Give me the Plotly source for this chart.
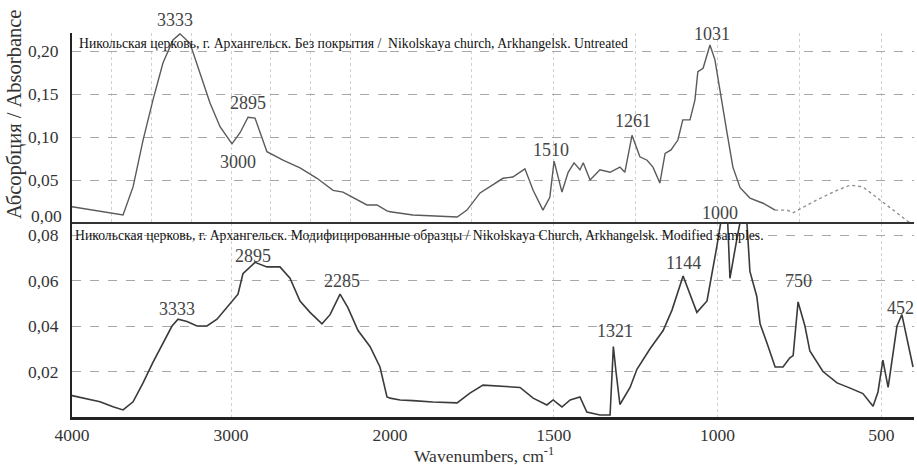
import plotly.graph_objects as go

# ---------------- data ----------------
top_wavenumber = [4000, 3824, 3679, 3616, 3553, 3491, 3428, 3365, 3321, 3258, 3195, 3132, 3069,
                  2994, 2943, 2893, 2849, 2818, 2774, 2673, 2566, 2459, 2358, 2296, 2233, 2145,
                  2082, 2019, 1930, 1795, 1765, 1725, 1695, 1655, 1625, 1588, 1563, 1533, 1512,
                  1499, 1475, 1456, 1438, 1420, 1410, 1389, 1359, 1328, 1298, 1283, 1261, 1237,
                  1215, 1197, 1176, 1160, 1142, 1121, 1106, 1084, 1069, 1060, 1044, 1023, 1008,
                  992, 971, 953, 931, 901, 861, 824, 788, 769, 696, 635, 595, 556, 504, 452, 412]
top_absorbance = [0.019, 0.014, 0.0093, 0.042, 0.0965, 0.143, 0.186, 0.213, 0.220, 0.209, 0.174,
                  0.1395, 0.112, 0.092, 0.105, 0.123, 0.122, 0.105, 0.083, 0.073, 0.064, 0.052,
                  0.038, 0.036, 0.030, 0.021, 0.021, 0.014, 0.0093, 0.007, 0.015, 0.035, 0.042,
                  0.052, 0.0535, 0.063, 0.038, 0.015, 0.030, 0.072, 0.036, 0.059, 0.070, 0.062,
                  0.070, 0.050, 0.062, 0.059, 0.065, 0.059, 0.102, 0.077, 0.073, 0.065, 0.0465,
                  0.081, 0.085, 0.0965, 0.120, 0.120, 0.143, 0.176, 0.180, 0.207, 0.190, 0.151,
                  0.105, 0.065, 0.041, 0.029, 0.023, 0.015, 0.015, 0.012, 0.027, 0.038, 0.044,
                  0.042, 0.027, 0.012, 0.000]

bottom_wavenumber = [4000, 3824, 3742, 3679, 3616, 3553, 3491, 3428, 3371, 3333, 3277, 3214, 3151,
                     3088, 3006, 2956, 2925, 2849, 2774, 2692, 2629, 2566, 2503, 2428, 2377, 2314,
                     2264, 2201, 2126, 2063, 2019, 1969, 1930, 1869, 1795, 1756, 1716, 1673, 1603,
                     1563, 1521, 1502, 1475, 1450, 1420, 1399, 1359, 1328, 1318, 1310, 1298, 1267,
                     1246, 1206, 1166, 1139, 1105, 1063, 1032, 1002, 985, 970, 962, 940, 925, 910,
                     901, 880, 870, 849, 824, 800, 779, 769, 754, 733, 718, 678, 635, 595, 556, 525,
                     510, 495, 479, 452, 437, 403]
bottom_absorbance = [0.0094, 0.0067, 0.0045, 0.0031, 0.0067, 0.015, 0.024, 0.0325, 0.040, 0.043,
                     0.042, 0.040, 0.040, 0.043, 0.050, 0.054, 0.063, 0.068, 0.066, 0.066, 0.061,
                     0.051, 0.046, 0.041, 0.045, 0.054, 0.048, 0.038, 0.031, 0.022, 0.0088, 0.0075,
                     0.0072, 0.0066, 0.0062, 0.0105, 0.014, 0.0136, 0.013, 0.0083, 0.0053, 0.0075,
                     0.0044, 0.0075, 0.0088, 0.0022, 0.0009, 0.0009, 0.031, 0.020, 0.0055, 0.013,
                     0.021, 0.030, 0.038, 0.047, 0.062, 0.046, 0.051, 0.075, 0.090, 0.090, 0.061,
                     0.079, 0.090, 0.085, 0.064, 0.053, 0.041, 0.0325, 0.022, 0.022, 0.026, 0.027,
                     0.0506, 0.040, 0.029, 0.020, 0.015, 0.0127, 0.0103, 0.0047, 0.011, 0.025,
                     0.013, 0.040, 0.045, 0.022]

top_peaks = [("3333", 3352, 0.236), ("2895", 2893, 0.1395), ("3000", 2956, 0.071),
             ("1510", 1508, 0.085), ("1261", 1258, 0.1186), ("1031", 1017, 0.220),
             ("1000", 992, 0.0116)]
bottom_peaks = [("3333", 3340, 0.0475), ("2895", 2862, 0.0707), ("2285", 2302, 0.060),
                ("1321", 1313, 0.038), ("1144", 1105, 0.0677), ("750", 753, 0.060),
                ("452", 440, 0.048)]

top_title = "Никольская церковь, г. Архангельск. Без покрытия /  Nikolskaya church, Arkhangelsk. Untreated"
bottom_title = "Никольская церковь, г. Архангельск. Модифицированные образцы / Nikolskaya Church, Arkhangelsk. Modified samples."
y_title = "Абсорбция / Absorbance"
x_title = "Wavenumbers, cm<sup>-1</sup>"

top_ticks = [0.05, 0.10, 0.15, 0.20]
bottom_ticks = [0.02, 0.04, 0.06, 0.08]
left_xticks = [4000, 3000, 2000]
right_xticks = [1500, 1000, 500]

# ---------------- helpers ----------------
SPLIT = 2000
FADE = 790     # below this the upper scan is faint / broken
TOP_RANGE = 0.221
BOT_RANGE = 0.0853


def segment(wn, ab, hi, lo):
    """Points with lo <= wn <= hi plus one neighbour on each side (clipped by the axis)."""
    idx = [i for i, w in enumerate(wn) if lo <= w <= hi]
    if not idx:
        return [], []
    a, b = max(idx[0] - 1, 0), min(idx[-1] + 1, len(wn) - 1)
    return wn[a:b + 1], ab[a:b + 1]


SERIF = "Liberation Serif"
fig = go.Figure()

top_line = dict(color="#5a5a5a", width=1.4)
top_faint = dict(color="#8a8a8a", width=1.3, dash="dot")
bot_line = dict(color="#3a3a3a", width=1.6)

w, a = segment(top_wavenumber, top_absorbance, 4000, SPLIT)
fig.add_trace(go.Scatter(x=w, y=a, xaxis="x", yaxis="y", mode="lines", line=top_line, showlegend=False))
w, a = segment(top_wavenumber, top_absorbance, SPLIT, FADE)
w, a = w[:-1], a[:-1]
fig.add_trace(go.Scatter(x=w, y=a, xaxis="x2", yaxis="y", mode="lines", line=top_line, showlegend=False))
idx = [i for i, v in enumerate(top_wavenumber) if v <= FADE]
w, a = top_wavenumber[idx[0] - 1:], top_absorbance[idx[0] - 1:]
fig.add_trace(go.Scatter(x=w, y=a, xaxis="x2", yaxis="y", mode="lines", line=top_faint, showlegend=False))
w, a = segment(bottom_wavenumber, bottom_absorbance, 4000, SPLIT)
fig.add_trace(go.Scatter(x=w, y=a, xaxis="x3", yaxis="y2", mode="lines", line=bot_line, showlegend=False))
w, a = segment(bottom_wavenumber, bottom_absorbance, SPLIT, 0)
fig.add_trace(go.Scatter(x=w, y=a, xaxis="x4", yaxis="y2", mode="lines", line=bot_line, showlegend=False))

W, H = 917, 465
ML, MR, MT, MB = 72, 3, 33, 48
pw = W - ML - MR
ph = H - MT - MB
xsplit = (390 - ML) / pw
ysplit = (417 - 223) / ph

grid_h = dict(showgrid=True, gridcolor="#a8a8a8", griddash="dash", gridwidth=1)
vgrid = dict(showgrid=True, gridcolor="#d0d0d0", griddash="dot", gridwidth=1)
tickfont = dict(family=SERIF, size=17.5, color="#333333")

common_x = dict(zeroline=False, ticks="", tickfont=tickfont, automargin=False, **vgrid)
fig.update_layout(
    width=W, height=H, autosize=False,
    margin=dict(l=ML, r=MR, t=MT, b=MB, pad=0),
    paper_bgcolor="white", plot_bgcolor="white",
    xaxis=dict(domain=[0, xsplit], range=[4000, SPLIT], anchor="y", showticklabels=False,
               tickvals=[3750, 3500, 3250, 3000, 2750, 2500, 2250], **common_x),
    xaxis2=dict(domain=[xsplit, 1], range=[SPLIT, 400], anchor="y", showticklabels=False,
                tickvals=[1750, 1500, 1250, 1000, 750, 500], **common_x),
    xaxis3=dict(domain=[0, xsplit], range=[4000, SPLIT], anchor="y2",
                tickvals=left_xticks, ticktext=[str(v) for v in left_xticks],
                showline=True, linecolor="#222222", linewidth=2.5, **common_x),
    xaxis4=dict(domain=[xsplit, 1], range=[SPLIT, 400], anchor="y2",
                tickvals=right_xticks, ticktext=[str(v) for v in right_xticks],
                showline=True, linecolor="#222222", linewidth=2.5, **common_x),
    yaxis=dict(domain=[ysplit, 1], range=[0, TOP_RANGE], anchor="x",
               tickvals=top_ticks, ticktext=[f"{v:.2f}".replace(".", ",") for v in top_ticks],
               showline=True, linecolor="#222222", linewidth=2, zeroline=False, automargin=False,
               tickfont=tickfont, ticks="", ticklabelstandoff=8, **grid_h),
    yaxis2=dict(domain=[0, ysplit], range=[0, BOT_RANGE], anchor="x3",
                tickvals=bottom_ticks, ticktext=[f"{v:.2f}".replace(".", ",") for v in bottom_ticks],
                showline=True, linecolor="#222222", linewidth=2, zeroline=False, automargin=False,
                tickfont=tickfont, ticks="", ticklabelstandoff=8, **grid_h),
)

# thick separator between panels
fig.add_shape(type="line", xref="paper", yref="paper", x0=0, x1=1, y0=ysplit, y1=ysplit,
              line=dict(color="#333333", width=2.2))

ann = []
ann.append(dict(text="0,00", xref="paper", yref="y", x=0, y=0.008, xanchor="right", yanchor="middle",
                xshift=-8, showarrow=False, font=tickfont))
title_font = dict(family=SERIF, size=13.7, color="#111111")
ann.append(dict(text=top_title, xref="paper", yref="y", x=(77 - ML) / pw, y=0.209,
                xanchor="left", yanchor="middle", showarrow=False, font=title_font))
ann.append(dict(text=bottom_title, xref="paper", yref="y2", x=(73 - ML) / pw, y=0.0796,
                xanchor="left", yanchor="middle", showarrow=False, font=title_font))
ann.append(dict(text=y_title, xref="paper", yref="paper", x=(15 - ML) / pw, y=(417 - 115) / ph,
                xanchor="center", yanchor="middle", textangle=-90, showarrow=False,
                font=dict(family=SERIF, size=20.5, color="#333333")))
ann.append(dict(text=x_title, xref="paper", yref="paper", x=(484 - ML) / pw, y=(417 - 455) / ph,
                xanchor="center", yanchor="middle", showarrow=False,
                font=dict(family=SERIF, size=17.5, color="#333333")))
pfont = dict(family=SERIF, size=18, color="#444444")
for txt, wn, yv in top_peaks:
    ann.append(dict(text=txt, xref="x" if wn >= SPLIT else "x2", yref="y domain", x=wn,
                    y=yv / TOP_RANGE, xanchor="center", yanchor="middle", showarrow=False, font=pfont))
for txt, wn, yv in bottom_peaks:
    ann.append(dict(text=txt, xref="x3" if wn >= SPLIT else "x4", yref="y2 domain", x=wn,
                    y=yv / BOT_RANGE, xanchor="center", yanchor="middle", showarrow=False, font=pfont))
fig.update_layout(annotations=ann)

fig.write_html("out.html", config={"displayModeBar": False},
               post_script="document.body.style.margin='0';document.body.style.overflow='hidden';")
